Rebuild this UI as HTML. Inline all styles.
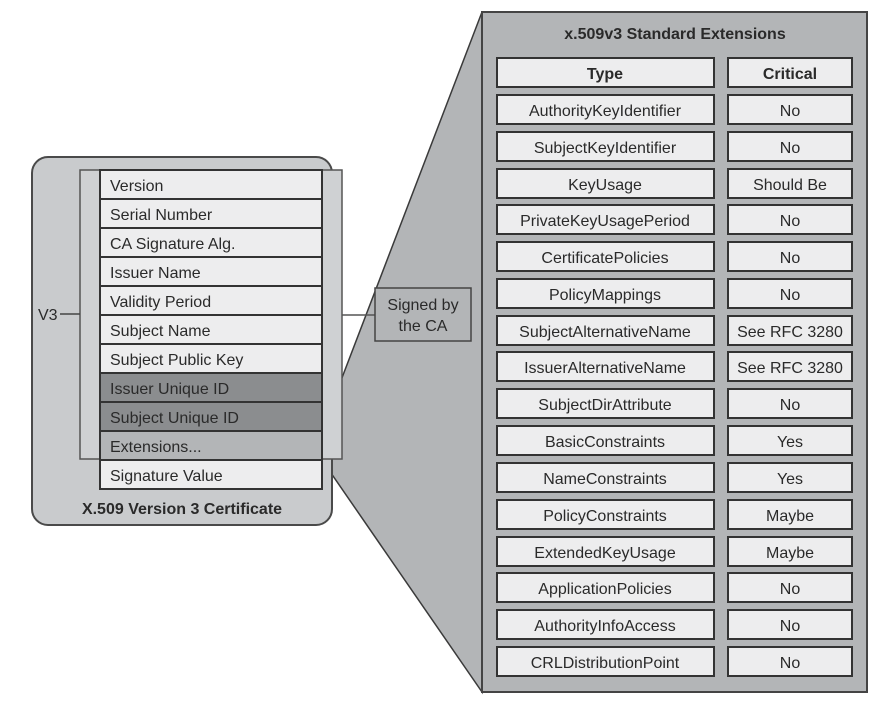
<!DOCTYPE html>
<html><head><meta charset="utf-8"><style>body{margin:0;background:#fff}svg{display:block}text{font-family:"Liberation Sans",sans-serif;fill:#2a2a2a}</style></head>
<body>
<svg width="889" height="705" viewBox="0 0 889 705" xmlns="http://www.w3.org/2000/svg">
<polygon points="322,430 482,12 482,692 322,460" fill="#b3b5b7" stroke="#3a3a3a" stroke-width="1.5"/>
<rect x="32" y="157" width="300" height="368" rx="16" fill="#c9cbcd" stroke="#4a4a4a" stroke-width="2"/>
<rect x="80" y="170" width="262" height="289" fill="#cfd1d3" stroke="#555" stroke-width="1.5"/>
<line x1="60" y1="314" x2="80" y2="314" stroke="#444" stroke-width="1.5"/>
<text x="38" y="320" font-size="16">V3</text>
<line x1="342" y1="315" x2="375" y2="315" stroke="#555" stroke-width="1.5"/>
<g stroke="#333" stroke-width="2">
<rect x="100" y="170" width="222" height="29" fill="#ededee"/>
<rect x="100" y="199" width="222" height="29" fill="#ededee"/>
<rect x="100" y="228" width="222" height="29" fill="#ededee"/>
<rect x="100" y="257" width="222" height="29" fill="#ededee"/>
<rect x="100" y="286" width="222" height="29" fill="#ededee"/>
<rect x="100" y="315" width="222" height="29" fill="#ededee"/>
<rect x="100" y="344" width="222" height="29" fill="#ededee"/>
<rect x="100" y="373" width="222" height="29" fill="#8b8d8f"/>
<rect x="100" y="402" width="222" height="29" fill="#8b8d8f"/>
<rect x="100" y="431" width="222" height="29" fill="#b3b5b7"/>
<rect x="100" y="460" width="222" height="29" fill="#ededee"/>
</g>
<g font-size="16">
<text x="110" y="191">Version</text>
<text x="110" y="220">Serial Number</text>
<text x="110" y="249">CA Signature Alg.</text>
<text x="110" y="278">Issuer Name</text>
<text x="110" y="307">Validity Period</text>
<text x="110" y="336">Subject Name</text>
<text x="110" y="365">Subject Public Key</text>
<text x="110" y="394">Issuer Unique ID</text>
<text x="110" y="423">Subject Unique ID</text>
<text x="110" y="452">Extensions...</text>
<text x="110" y="481">Signature Value</text>
</g>
<text x="182" y="514" font-size="16" font-weight="bold" text-anchor="middle">X.509 Version 3 Certificate</text>
<rect x="375" y="288" width="96" height="53" fill="#b3b5b7" stroke="#444" stroke-width="1.5"/>
<text x="423" y="310" font-size="16" text-anchor="middle">Signed by</text>
<text x="423" y="331" font-size="16" text-anchor="middle">the CA</text>
<rect x="482" y="12" width="385" height="680" fill="#b3b5b7" stroke="#444" stroke-width="2"/>
<text x="675" y="39" font-size="16" font-weight="bold" text-anchor="middle">x.509v3 Standard Extensions</text>
<g id="t" font-size="16" text-anchor="middle">
<g stroke="#333" stroke-width="2" fill="#ededee">
<rect x="497" y="58" width="217" height="29"/><rect x="728" y="58" width="124" height="29"/>
<rect x="497" y="95" width="217" height="29"/><rect x="728" y="95" width="124" height="29"/>
<rect x="497" y="132" width="217" height="29"/><rect x="728" y="132" width="124" height="29"/>
<rect x="497" y="169" width="217" height="29"/><rect x="728" y="169" width="124" height="29"/>
<rect x="497" y="205" width="217" height="29"/><rect x="728" y="205" width="124" height="29"/>
<rect x="497" y="242" width="217" height="29"/><rect x="728" y="242" width="124" height="29"/>
<rect x="497" y="279" width="217" height="29"/><rect x="728" y="279" width="124" height="29"/>
<rect x="497" y="316" width="217" height="29"/><rect x="728" y="316" width="124" height="29"/>
<rect x="497" y="352" width="217" height="29"/><rect x="728" y="352" width="124" height="29"/>
<rect x="497" y="389" width="217" height="29"/><rect x="728" y="389" width="124" height="29"/>
<rect x="497" y="426" width="217" height="29"/><rect x="728" y="426" width="124" height="29"/>
<rect x="497" y="463" width="217" height="29"/><rect x="728" y="463" width="124" height="29"/>
<rect x="497" y="500" width="217" height="29"/><rect x="728" y="500" width="124" height="29"/>
<rect x="497" y="537" width="217" height="29"/><rect x="728" y="537" width="124" height="29"/>
<rect x="497" y="573" width="217" height="29"/><rect x="728" y="573" width="124" height="29"/>
<rect x="497" y="610" width="217" height="29"/><rect x="728" y="610" width="124" height="29"/>
<rect x="497" y="647" width="217" height="29"/><rect x="728" y="647" width="124" height="29"/>
</g>
<text x="605" y="79" font-weight="bold">Type</text><text x="790" y="79" font-weight="bold">Critical</text>
<text x="605" y="116">AuthorityKeyIdentifier</text><text x="790" y="116">No</text>
<text x="605" y="153">SubjectKeyIdentifier</text><text x="790" y="153">No</text>
<text x="605" y="190">KeyUsage</text><text x="790" y="190">Should Be</text>
<text x="605" y="226">PrivateKeyUsagePeriod</text><text x="790" y="226">No</text>
<text x="605" y="263">CertificatePolicies</text><text x="790" y="263">No</text>
<text x="605" y="300">PolicyMappings</text><text x="790" y="300">No</text>
<text x="605" y="337">SubjectAlternativeName</text><text x="790" y="337">See RFC 3280</text>
<text x="605" y="373">IssuerAlternativeName</text><text x="790" y="373">See RFC 3280</text>
<text x="605" y="410">SubjectDirAttribute</text><text x="790" y="410">No</text>
<text x="605" y="447">BasicConstraints</text><text x="790" y="447">Yes</text>
<text x="605" y="484">NameConstraints</text><text x="790" y="484">Yes</text>
<text x="605" y="521">PolicyConstraints</text><text x="790" y="521">Maybe</text>
<text x="605" y="558">ExtendedKeyUsage</text><text x="790" y="558">Maybe</text>
<text x="605" y="594">ApplicationPolicies</text><text x="790" y="594">No</text>
<text x="605" y="631">AuthorityInfoAccess</text><text x="790" y="631">No</text>
<text x="605" y="668">CRLDistributionPoint</text><text x="790" y="668">No</text>
</g>
</svg>
</body></html>
